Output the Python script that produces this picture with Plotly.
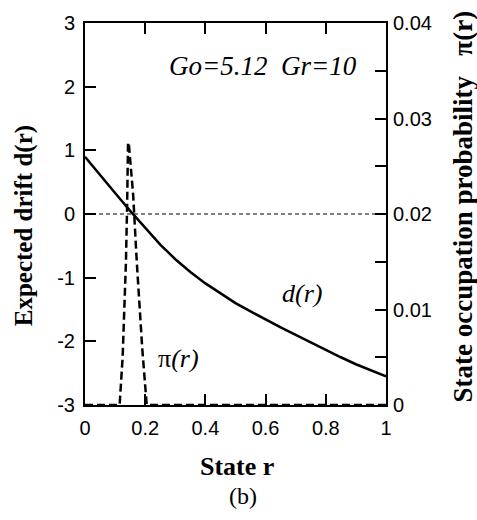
import plotly.graph_objects as go

# ---- data ----
r_drift = [0.0, 0.05, 0.10, 0.15, 0.20, 0.25, 0.30, 0.35, 0.40, 0.45, 0.50, 0.55, 0.60,
           0.65, 0.70, 0.75, 0.80, 0.85, 0.90, 0.95, 1.00]
drift = [0.90, 0.61, 0.33, 0.05, -0.22, -0.48, -0.71, -0.91, -1.09, -1.25, -1.40, -1.53, -1.66,
         -1.78, -1.90, -2.02, -2.14, -2.25, -2.36, -2.46, -2.55]

r_pi = [0.0, 0.10, 0.115, 0.125, 0.136, 0.140, 0.143, 0.146, 0.160, 0.172, 0.190, 0.205, 0.30, 1.0]
pi_r = [0.0, 0.0, 0.0, 0.005, 0.015, 0.021, 0.0275, 0.0272, 0.022, 0.015, 0.006, 0.0, 0.0, 0.0]

zero_x = [0.0, 1.0]
zero_y = [0.0, 0.0]

left_ticks = [-3, -2, -1, 0, 1, 2, 3]
left_ticklabels = ["-3", "-2", "-1", "0", "1", "2", "3"]
right_ticks = [0, 0.01, 0.02, 0.03, 0.04]
right_ticklabels = ["0", "0.01", "0.02", "0.03", "0.04"]
x_ticks = [0, 0.2, 0.4, 0.6, 0.8, 1]
x_ticklabels = ["0", "0.2", "0.4", "0.6", "0.8", "1"]

SERIF = "Liberation Serif"
SANS = "Liberation Sans"

fig = go.Figure()
fig.add_trace(go.Scatter(x=zero_x, y=zero_y, mode="lines",
                         line=dict(color="black", width=1.2, dash="4px,3px"),
                         showlegend=False, hoverinfo="skip"))
fig.add_trace(go.Scatter(x=r_drift, y=drift, mode="lines",
                         line=dict(color="black", width=2.5),
                         showlegend=False))
fig.add_trace(go.Scatter(x=r_pi, y=pi_r, mode="lines", yaxis="y2",
                         line=dict(color="black", width=2.5, dash="8px,4px"),
                         showlegend=False))

tick_common = dict(showline=True, linecolor="black", linewidth=2,
                   ticks="inside", ticklen=11, tickwidth=1.5, tickcolor="black",
                   showgrid=False, zeroline=False,
                   tickfont=dict(family=SANS, size=20))

fig.update_layout(
    width=477, height=520,
    margin=dict(l=85, r=91, t=17, b=115),
    paper_bgcolor="white", plot_bgcolor="white",
    font=dict(family=SANS, size=20, color="black"),
    xaxis=dict(range=[0, 1], tickvals=x_ticks, ticktext=x_ticklabels,
               mirror="ticks", ticklabelstandoff=4, **tick_common),
    yaxis=dict(range=[-3, 3], tickvals=left_ticks, ticktext=left_ticklabels,
               ticklabelstandoff=4, **tick_common),
    yaxis2=dict(range=[0, 0.04], overlaying="y", side="right",
                tickvals=right_ticks, ticktext=right_ticklabels,
                minor=dict(tickvals=[0.005, 0.015, 0.025, 0.035], ticks="inside",
                           ticklen=11, tickwidth=1.5, tickcolor="black"),
                ticklabelstandoff=1, **tick_common),
)

ann = [
    dict(text="<i>Go=5.12  Gr=10</i>", x=0.59, y=2.33, xref="x", yref="y",
         font=dict(family=SERIF, size=27)),
    dict(text="<i>d(r)</i>", x=0.72, y=-1.25, xref="x", yref="y",
         font=dict(family=SERIF, size=26)),
    dict(text="π<i>(r)</i>", x=0.31, y=-2.27, xref="x", yref="y",
         font=dict(family=SERIF, size=26)),
    dict(text="<b>Expected drift d(r)</b>", x=-0.2, y=0.47, xref="paper", yref="paper",
         textangle=-90, font=dict(family=SERIF, size=25)),
    dict(text="<b>State occupation probability   π(r)</b>", x=1.256, y=0.52,
         xref="paper", yref="paper", textangle=-90, font=dict(family=SERIF, size=27)),
    dict(text="<b>State r</b>", x=0.505, y=-0.16, xref="paper", yref="paper",
         font=dict(family=SERIF, size=26)),
    dict(text="(b)", x=0.525, y=-0.237, xref="paper", yref="paper",
         font=dict(family=SERIF, size=24)),
]
for a in ann:
    a.update(showarrow=False, xanchor="center", yanchor="middle")
fig.update_layout(annotations=ann)

fig.write_html("out.html")
